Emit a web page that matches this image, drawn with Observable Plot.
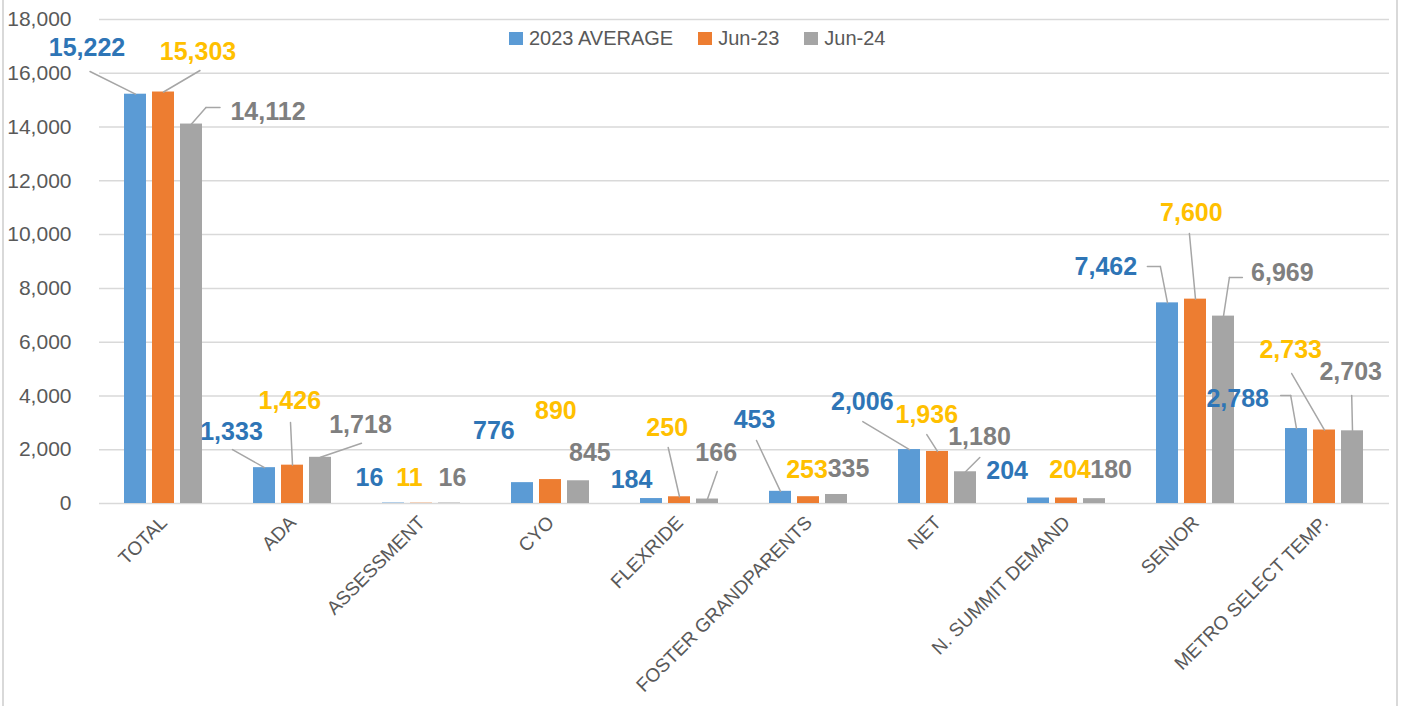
<!DOCTYPE html>
<html>
<head>
<meta charset="utf-8">
<script src="https://cdn.jsdelivr.net/npm/d3@7"></script>
<script src="https://cdn.jsdelivr.net/npm/@observablehq/plot@0.6"></script>
<style>
  html, body { margin: 0; padding: 0; background: #fff; }
  #wrap { position: relative; width: 1401px; height: 706px; overflow: hidden; font-family: "Liberation Sans", Arial, sans-serif; }
  .edge { position: absolute; top: 0; width: 2px; height: 706px; background: #d9d9d9; }
  #legend { position: absolute; top: 27px; left: 509px; display: flex; align-items: center; font-size: 20px; color: #595959; white-space: nowrap; }
  #legend .item { display: flex; align-items: center; margin-right: 25px; }
  #legend .sw { width: 14px; height: 13px; margin-right: 6px; }
</style>
</head>
<body>
<div id="wrap">
  <div class="edge" style="left:2px"></div>
  <div class="edge" style="left:1396px"></div>
  <div id="chart"></div>
  <div id="legend"></div>
</div>
<script>
// ---- data ----
const categories = ["TOTAL", "ADA", "ASSESSMENT", "CYO", "FLEXRIDE", "FOSTER GRANDPARENTS", "NET", "N. SUMMIT DEMAND", "SENIOR", "METRO SELECT TEMP."];
const seriesNames = ["2023 AVERAGE", "Jun-23", "Jun-24"];
const avg2023 = [15222, 1333, 16, 776, 184, 453, 2006, 204, 7462, 2788];
const jun23 = [15303, 1426, 11, 890, 250, 253, 1936, 204, 7600, 2733];
const jun24 = [14112, 1718, 16, 845, 166, 335, 1180, 180, 6969, 2703];
const yTicks = [0, 2000, 4000, 6000, 8000, 10000, 12000, 14000, 16000, 18000];

// ---- styling ----
const barColors = ["#5b9bd5", "#ed7d31", "#a5a5a5"];
const labelColors = ["#2e75b6", "#ffc000", "#7f7f7f"];

// data-label placement: pixel offset of each label centre from the top of its bar
const avgLabelOffset = [[-48.5,-45.7],[-33,-36],[-24,-25],[-28.6,-52],[-20,-19],[-26,-71.8],[-47.2,-48],[-31.4,-27.5],[-61.6,-35.6],[-58.8,-30]];
const jun23LabelOffset = [[34.5,-39.8],[-2.7,-63.7],[-12,-25],[5.4,-69],[-12.3,-68.3],[-1.5,-27],[-10.7,-36.9],[3.6,-28.5],[-4.1,-86.1],[-33.8,-80.5]];
const jun24LabelOffset = [[76.5,-12.5],[40,-32],[3,-25],[11.4,-28],[8.7,-46.5],[12,-25],[14,-34.3],[16.6,-29],[58.9,-43.1],[-1.8,-59.3]];
// leader lines: points (pixel offsets from the bar top) after the bar-top start point
const avgLeader = [[[-45.5,-22.7]], [[-32,-18]], null, null, null, [[-24,-50.8]], [[-46.7,-28]], null, [[-7.1,-36.3],[-20.1,-36.3]], [[-5.8,-33],[-15.8,-33]]];
const jun23Leader = [[[36.5,-21.5]], [[-2,-42.7]], null, null, [[-11.3,-49.3]], null, [[-10.7,-16.9]], null, [[-6.1,-65.6]], [[-32.8,-56.5]]];
const jun24Leader = [[[14.5,-16.5],[28.5,-16.5]], [[41,-14]], null, null, [[9.7,-27.5]], null, [[14.3,-14.3]], null, [[5.9,-38.6],[18.9,-38.6]], [[-0.8,-35.3]]];

const seriesValues = [avg2023, jun23, jun24];
const labelOffsets = [avgLabelOffset, jun23LabelOffset, jun24LabelOffset];
const leaders = [avgLeader, jun23Leader, jun24Leader];

const rows = [];
categories.forEach((c, i) => {
  seriesNames.forEach((s, k) => {
    rows.push({category: c, series: s, value: seriesValues[k][i], k, i});
  });
});

const fmt = d3.format(",");
const lineShape = {draw(context, l) { context.moveTo(0, 0); context.lineTo(0, -l); }};

const marks = [
  Plot.gridY(yTicks, {stroke: "#d9d9d9", strokeOpacity: 1, strokeWidth: 1.5}),
  Plot.axisY(yTicks, {tickSize: 0, tickPadding: 28, tickFormat: fmt, fontSize: 21, fill: "#595959", label: null}),
  Plot.axisFx({anchor: "bottom", tickRotate: -45, tickSize: 0, tickPadding: 16, fontSize: 19, fill: "#595959", label: null}),
  Plot.barY(rows, {fx: "category", x: "series", y: "value", fill: "series"})
];

rows.forEach(r => {
  const [ldx, ldy] = labelOffsets[r.k][r.i];
  marks.push(Plot.text([r], {
    fx: "category", x: "series", y: "value", text: d => fmt(d.value),
    dx: ldx, dy: ldy, fill: labelColors[r.k], fontWeight: "bold", fontSize: 25
  }));
  const pts = leaders[r.k][r.i];
  if (pts) {
    let prev = [0, 0];
    pts.forEach(p => {
      const ex = p[0] - prev[0], ey = p[1] - prev[1];
      const len = Math.hypot(ex, ey);
      const rot = Math.atan2(ex, -ey) * 180 / Math.PI;
      marks.push(Plot.vector([r], {
        fx: "category", x: "series", y: "value",
        dx: prev[0], dy: prev[1], length: len, rotate: rot, anchor: "start",
        shape: lineShape, stroke: "#a6a6a6", strokeWidth: 1.5
      }));
      prev = p;
    });
  }
});

const chart = Plot.plot({
  width: 1401,
  height: 706,
  marginTop: 19,
  marginBottom: 203,
  marginLeft: 95,
  marginRight: 9,
  style: {fontFamily: "'Liberation Sans', Arial, sans-serif", background: "transparent"},
  fx: {domain: categories, padding: 0, label: null},
  x: {domain: seriesNames, paddingInner: 0.207, paddingOuter: 0.84, axis: null},
  y: {domain: [0, 18000], axis: null},
  color: {domain: seriesNames, range: barColors},
  marks
});
document.getElementById("chart").appendChild(chart);

// legend
const legend = document.getElementById("legend");
seriesNames.forEach((s, k) => {
  const item = document.createElement("div");
  item.className = "item";
  const sw = document.createElement("span");
  sw.className = "sw";
  sw.style.background = barColors[k];
  const t = document.createElement("span");
  t.textContent = s;
  item.appendChild(sw);
  item.appendChild(t);
  legend.appendChild(item);
});
</script>
</body>
</html>
